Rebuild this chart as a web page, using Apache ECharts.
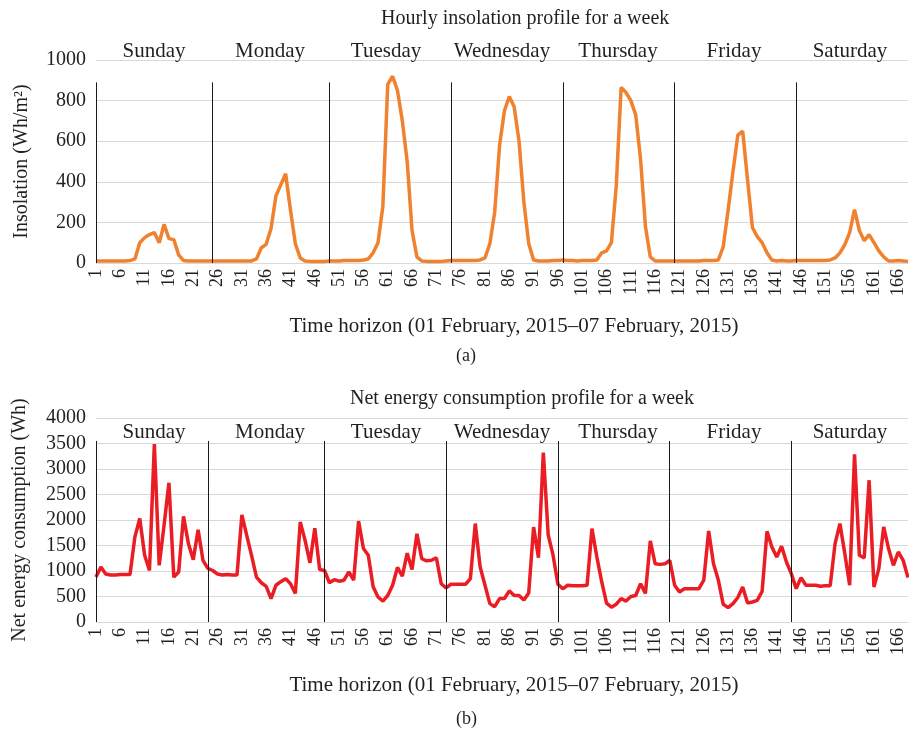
<!DOCTYPE html>
<html>
<head>
<meta charset="utf-8">
<script src="https://cdn.jsdelivr.net/npm/echarts@6/dist/echarts.min.js"></script>
<style>
  html, body { margin: 0; padding: 0; background: #fff; }
  #chart { width: 909px; height: 735px; }
</style>
</head>
<body>
<div id="chart"></div>
<script>
// ---------- data ----------
const hours = Array.from({ length: 168 }, (_, i) => String(i + 1));
const days = ['Sunday', 'Monday', 'Tuesday', 'Wednesday', 'Thursday', 'Friday', 'Saturday'];

// insolation, Wh/m2, one row per day
const insolation = [
  10, 10, 10, 10, 10, 10, 10, 12, 20, 100, 125, 140, 150, 100, 190, 120, 115, 40, 12, 10, 10, 10, 10, 10,
  10, 10, 10, 10, 10, 10, 10, 10, 10, 20, 75, 92, 170, 330, 385, 440, 260, 95, 25, 10, 8, 8, 8, 8,
  10, 10, 10, 12, 12, 12, 12, 15, 20, 50, 100, 280, 880, 920, 850, 700, 500, 160, 30, 10, 8, 8, 8, 8,
  10, 12, 12, 12, 12, 12, 12, 15, 25, 95, 250, 580, 750, 820, 770, 600, 300, 95, 15, 10, 10, 10, 12, 12,
  15, 12, 12, 10, 12, 12, 12, 15, 50, 60, 100, 380, 865, 840, 800, 730, 510, 180, 30, 10, 10, 10, 10, 10,
  10, 10, 10, 10, 10, 12, 12, 12, 15, 80, 260, 450, 630, 650, 410, 175, 130, 100, 50, 15, 10, 12, 10, 10,
  12, 12, 12, 12, 12, 12, 12, 15, 25, 50, 90, 150, 263, 160, 110, 140, 100, 60, 30, 10, 10, 12, 10, 8
];

// net energy consumption, Wh, one row per day
const consumption = [
  880, 1080, 940, 920, 920, 930, 930, 930, 1670, 2030, 1310, 1010, 3490, 1110, 1900, 2730, 880, 980, 2070, 1540, 1220, 1810, 1210, 1050,
  1010, 940, 920, 930, 920, 920, 2100, 1700, 1300, 880, 770, 700, 460, 720, 790, 850, 750, 560, 1960, 1600, 1160, 1840, 1030, 1010,
  770, 830, 800, 820, 980, 820, 1980, 1440, 1310, 690, 490, 410, 520, 720, 1070, 900, 1350, 1030, 1730, 1240, 1200, 1210, 1260, 750,
  670, 740, 740, 740, 740, 850, 1930, 1080, 720, 360, 300, 460, 460, 610, 520, 520, 430, 570, 1860, 1260, 3320, 1710, 1310, 740,
  650, 720, 710, 710, 710, 720, 1830, 1280, 790, 370, 290, 350, 460, 410, 500, 520, 750, 560, 1590, 1140, 1130, 1140, 1210, 720,
  590, 650, 650, 650, 654, 820, 1785, 1144, 817, 347, 281, 360, 480, 687, 373, 392, 425, 602, 1779, 1472, 1275, 1485, 1177, 948,
  654, 870, 720, 720, 720, 700, 710, 713, 1537, 1929, 1341, 720, 3290, 1308, 1256, 2780, 687, 1046, 1864, 1439, 1112, 1373, 1210, 870
];

// day separator positions (category index) and their top ends
const topSplits = [0.3, 23.8, 47.7, 72.6, 95.7, 119.4, 144.2];
const bottomSplits = [-0.2, 23.0, 46.9, 72.0, 94.9, 118.2, 143.2];
const topSplitEnd = 890;
const bottomSplitEnd = 3550;

// ---------- chart ----------
const chart = echarts.init(document.getElementById('chart'));
const FONT = 'Liberation Serif';
const TXT = '#231f20';

function splitLines(list, end) {
  return list.map(x => [{ coord: [x, 0] }, { coord: [x, end] }]);
}

function hourAxis(gridIndex) {
  return {
    type: 'category',
    gridIndex: gridIndex,
    data: hours,
    boundaryGap: false,
    name: 'Time horizon (01 February, 2015\u201307 February, 2015)',
    nameLocation: 'middle',
    nameGap: 53,
    nameTextStyle: { fontFamily: FONT, fontSize: 21, color: TXT, padding: [0, 0, 0, 24] },
    axisLine: { lineStyle: { color: '#d9d9d9', width: 1 } },
    axisTick: { show: false },
    axisLabel: {
      interval: 4,
      rotate: 90,
      fontFamily: FONT,
      fontSize: 18,
      color: TXT,
      margin: 6
    }
  };
}

function dayAxis(gridIndex, inside, margin) {
  return {
    type: 'category',
    gridIndex: gridIndex,
    position: 'top',
    data: days,
    axisLine: { show: false },
    axisTick: { show: false },
    splitLine: { show: false },
    axisLabel: {
      interval: 0, inside: inside, margin: margin,
      fontFamily: FONT, fontSize: 21, color: TXT
    }
  };
}

function valueAxis(gridIndex, max, interval, name, gap) {
  return {
    type: 'value',
    gridIndex: gridIndex,
    min: 0,
    max: max,
    interval: interval,
    name: name,
    nameLocation: 'middle',
    nameGap: gap,
    nameTextStyle: { fontFamily: FONT, fontSize: 20, color: TXT },
    axisLine: { show: false },
    axisTick: { show: false },
    axisLabel: {
      fontFamily: FONT, fontSize: 20, color: TXT, margin: 10,
      formatter: v => String(v)
    },
    splitLine: { lineStyle: { color: '#d9d9d9', width: 1 } }
  };
}

const titleStyle = { fontFamily: FONT, fontSize: 20, fontWeight: 'normal', color: TXT };
const tagStyle = { fontFamily: FONT, fontSize: 18, fontWeight: 'normal', color: TXT };

const option = {
  animation: false,
  backgroundColor: '#fff',
  title: [
    { text: 'Hourly insolation profile for a week', left: 376, top: 4, textStyle: titleStyle },
    { text: '(a)', left: 451, top: 342, textStyle: tagStyle },
    { text: 'Net energy consumption profile for a week', left: 345, top: 384, textStyle: titleStyle },
    { text: '(b)', left: 451, top: 705, textStyle: tagStyle }
  ],
  grid: [
    { left: 96, right: 1, top: 60, height: 203 },
    { left: 96, right: 1, top: 418, height: 204 }
  ],
  xAxis: [
    hourAxis(0),
    dayAxis(0, false, -2),
    hourAxis(1),
    dayAxis(1, true, 4)
  ],
  yAxis: [
    valueAxis(0, 1000, 200, 'Insolation (Wh/m\u00b2)', 64),
    valueAxis(1, 4000, 500, 'Net energy consumption (Wh)', 66)
  ],
  series: [
    {
      type: 'line',
      xAxisIndex: 0,
      yAxisIndex: 0,
      data: insolation,
      showSymbol: false,
      clip: false,
      lineStyle: { color: '#f0812f', width: 3.5 },
      markLine: {
        silent: true,
        symbol: 'none',
        label: { show: false },
        lineStyle: { color: '#1a1a1a', width: 1, type: 'solid' },
        data: splitLines(topSplits, topSplitEnd)
      }
    },
    {
      type: 'line',
      xAxisIndex: 2,
      yAxisIndex: 1,
      data: consumption,
      showSymbol: false,
      clip: false,
      lineStyle: { color: '#ea1c24', width: 3.5 },
      markLine: {
        silent: true,
        symbol: 'none',
        label: { show: false },
        lineStyle: { color: '#1a1a1a', width: 1, type: 'solid' },
        data: splitLines(bottomSplits, bottomSplitEnd)
      }
    }
  ]
};

chart.setOption(option);
</script>
</body>
</html>
